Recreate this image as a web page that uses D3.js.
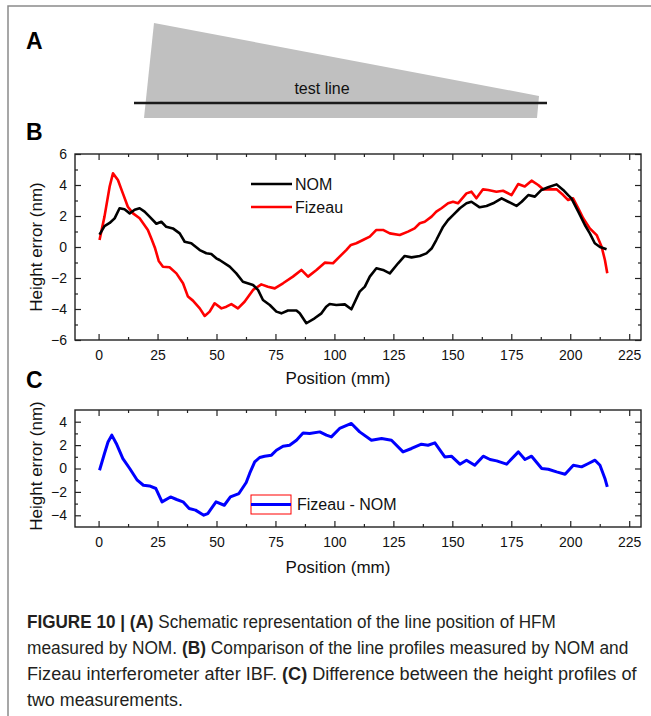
<!DOCTYPE html>
<html><head><meta charset="utf-8">
<script src="https://cdn.jsdelivr.net/npm/d3@7"></script>
<style>
html,body{margin:0;padding:0;background:#fff;}
svg{display:block;}
text{font-family:"Liberation Sans",Arial,sans-serif;}
</style></head>
<body>
<svg id="fig" width="651" height="716"></svg>
<script>
// ---------------- data ----------------
const nomX = [0.4,2.5,4.7,6.8,8.9,11,13.2,15.3,17.4,19.5,21.6,24.5,26.6,28.7,31.5,34.4,36.5,39.3,42.9,45.7,47.8,49.9,51.3,55.6,58.4,61.2,65.5,67.6,69.7,72.6,75.4,77.5,80.3,83.9,85.3,88.1,91.6,94.5,96.5,98,100.8,104.4,107.2,110.7,112.9,115,117.8,120.6,123.5,127,129.8,132.7,136.2,139,141.2,143.2,146.1,148.2,150.3,153.2,156,158.1,161.6,164.5,167.3,170.9,173.7,177.2,179.4,182.2,185,187.8,190.6,194.2,197,199.1,200.5,203.4,206.2,208.3,210.4,212.6,215.4];
const nomY = [0.8,1.35,1.55,1.85,2.5,2.43,2.17,2.4,2.5,2.28,1.96,1.5,1.63,1.3,1.2,0.88,0.34,0.24,-0.2,-0.4,-0.45,-0.73,-0.84,-1.27,-1.7,-2.24,-2.45,-2.77,-3.42,-3.74,-4.17,-4.28,-4.1,-4.1,-4.28,-4.92,-4.6,-4.28,-3.85,-3.68,-3.74,-3.7,-4.02,-2.88,-2.56,-1.91,-1.37,-1.48,-1.7,-1.05,-0.58,-0.67,-0.58,-0.41,-0.1,0.45,1.31,1.74,2.06,2.5,2.82,2.92,2.56,2.65,2.82,3.14,2.92,2.65,2.92,3.35,3.25,3.68,3.85,4.04,3.68,3.35,3.14,2.28,1.42,0.88,0.24,0,-0.15];

const fizX = [0.4,2.5,4.7,6.1,8.2,10.3,12.4,14.6,17.4,20.9,22.5,24,25.5,27.3,30.1,33,35.8,37.9,40,42.9,45,47.1,49.2,52.1,54.2,56.3,59.1,61.9,65.5,69,71.8,74.7,78.2,82.4,86,88.8,92.4,95.9,99.4,102.2,105,107,109.3,112.1,115,117.8,120.6,123.5,127.7,131.2,134,136.2,138.3,141.2,143.2,145.4,148.2,150.3,152.4,156,158.1,160.2,163,165.2,168.7,171.5,175.1,177.9,180.7,183.6,186.4,188.5,191.3,194.2,197,199.1,201.2,203.4,205.5,208.3,211.2,213.3,214.7,215.7];
const fizY = [0.45,1.96,3.9,4.75,4.32,3.46,2.6,2.17,1.85,1.1,0.5,-0.1,-0.9,-1.27,-1.31,-1.7,-2.34,-3.2,-3.46,-3.96,-4.45,-4.17,-3.63,-3.96,-3.85,-3.68,-3.96,-3.53,-2.77,-2.41,-2.56,-2.67,-2.34,-1.91,-1.48,-1.91,-1.48,-1.01,-1.05,-0.62,-0.2,0.13,0.24,0.45,0.67,1.1,1.1,0.88,0.77,0.99,1.2,1.53,1.63,1.96,2.28,2.5,2.82,2.92,2.82,3.46,3.57,3.14,3.72,3.68,3.57,3.63,3.35,4.06,3.9,4.28,4.0,3.72,3.72,3.72,3.35,3.03,3.14,2.5,1.85,1.2,0.77,0.02,-0.84,-1.7];

const diffX = [0.4,2.5,4,5.6,7.5,10.3,13.2,16.4,19,21.6,24.3,26.9,30.5,33.1,35.8,38.4,41.1,44.6,46.3,49.8,53.3,55.9,59.5,62.6,64.1,66.2,68.3,70.4,73.3,75.4,78.2,81,83.9,86.7,89.5,93.8,96.6,98.7,102.2,107.2,110.7,115.7,120,124.2,129.1,132.7,136.9,139.7,142.6,146.8,149.6,153.2,156,159.5,163.1,166,168.8,173,178,180.8,183.6,187.9,190.7,194.2,197.8,201.3,204.8,207.7,210.5,212.6,214.7,215.7];
const diffY = [-0.15,1.28,2.27,2.85,2.14,0.85,0.0,-1.0,-1.43,-1.49,-1.71,-2.85,-2.43,-2.65,-2.85,-3.42,-3.56,-3.99,-3.85,-2.85,-3.14,-2.43,-2.14,-1.2,-0.4,0.56,0.94,1.05,1.14,1.56,1.9,1.99,2.42,3.04,2.99,3.13,2.85,2.7,3.42,3.85,3.13,2.42,2.56,2.42,1.42,1.71,2.08,1.99,2.19,0.99,1.05,0.37,0.71,0.28,1.05,0.77,0.65,0.37,1.42,0.77,1.05,0,-0.06,-0.29,-0.49,0.28,0.14,0.43,0.71,0.28,-0.85,-1.57];

const xTicks = [0,25,50,75,100,125,150,175,200,225];
const xMinor = [12.5,37.5,62.5,87.5,112.5,137.5,162.5,187.5,212.5];
const yTicksB = [-6,-4,-2,0,2,4,6];
const yMinorB = [-5,-3,-1,1,3,5];
const yTicksC = [-4,-2,0,2,4];
const yMinorC = [-3,-1,1,3];

const legendB = ["NOM","Fizeau"];
const legendC = ["Fizeau - NOM"];

const captionLines = [
  [{b:true,t:"FIGURE 10 | (A)"},{b:false,t:" Schematic representation of the line position of HFM"}],
  [{b:false,t:"measured by NOM. "},{b:true,t:"(B)"},{b:false,t:" Comparison of the line profiles measured by NOM and"}],
  [{b:false,t:"Fizeau interferometer after IBF. "},{b:true,t:"(C)"},{b:false,t:" Difference between the height profiles of"}],
  [{b:false,t:"two measurements."}]
];
const captionWidths = [529, 602, 610, 156];

// ---------------- drawing ----------------
const svg = d3.select("#fig");
svg.append("rect").attr("width",651).attr("height",716).attr("fill","#fff");

// outer frame
svg.append("path").attr("d","M8,716 L8,6 L651,6").attr("fill","none")
  .attr("stroke","#8a8a8a").attr("stroke-width",1.5);

// panel letters
[["A",49],["B",140],["C",388]].forEach(([l,y])=>{
  svg.append("text").attr("x",26).attr("y",y).text(l)
    .attr("font-size",23).attr("font-weight","bold").attr("fill","#000");
});

// panel A schematic
svg.append("polygon").attr("points","154,23 144,118 537,118 539,96")
  .attr("fill","#c0c0c0");
svg.append("line").attr("x1",134).attr("x2",547).attr("y1",103).attr("y2",103)
  .attr("stroke","#1a1a1a").attr("stroke-width",2.5);
svg.append("text").attr("x",322).attr("y",94).attr("text-anchor","middle")
  .attr("font-family","'Open Sans',sans-serif").attr("font-size",16).attr("fill","#111").text("test line");

const x = d3.scaleLinear().domain([-10,230]).range([75,641]);
const yB = d3.scaleLinear().domain([-6,6]).range([340,154]);
const yC = d3.scaleLinear().domain([-5,5]).range([527,410]);

function frame(y, yMaj, yMin){
  const [b,t] = y.range();
  const g = svg.append("g");
  g.append("g").attr("transform",`translate(0,${b})`)
    .call(d3.axisBottom(x).tickValues(xTicks).tickSize(-6).tickPadding(10).tickFormat(d3.format("d")));
  g.append("g").attr("transform",`translate(0,${b})`)
    .call(d3.axisBottom(x).tickValues(xMinor).tickSize(-3).tickFormat(""));
  g.append("g").attr("transform",`translate(0,${t})`)
    .call(d3.axisTop(x).tickValues(xTicks).tickSize(-6).tickFormat(""));
  g.append("g").attr("transform",`translate(0,${t})`)
    .call(d3.axisTop(x).tickValues(xMinor).tickSize(-3).tickFormat(""));
  g.append("g").attr("transform",`translate(75,0)`)
    .call(d3.axisLeft(y).tickValues(yMaj).tickSize(-6).tickPadding(8).tickFormat(d3.format("d")));
  g.append("g").attr("transform",`translate(75,0)`)
    .call(d3.axisLeft(y).tickValues(yMin).tickSize(-3).tickFormat(""));
  g.append("g").attr("transform",`translate(641,0)`)
    .call(d3.axisRight(y).tickValues(yMaj).tickSize(-6).tickFormat(""));
  g.append("g").attr("transform",`translate(641,0)`)
    .call(d3.axisRight(y).tickValues(yMin).tickSize(-3).tickFormat(""));
  g.selectAll(".domain").remove();
  g.selectAll(".tick line").attr("stroke","#222").attr("stroke-width",1.2);
  g.selectAll(".tick text").attr("font-size",14).attr("fill","#111")
    .attr("font-family","'Liberation Sans',Arial,sans-serif");
  g.append("rect").attr("x",75).attr("y",t).attr("width",641-75).attr("height",b-t)
    .attr("fill","none").attr("stroke","#222").attr("stroke-width",1.4);
}

frame(yB, yTicksB, yMinorB);
frame(yC, yTicksC, yMinorC);

// curves
const lineB = d3.line().x(d=>x(d[0])).y(d=>yB(d[1]));
const lineC = d3.line().x(d=>x(d[0])).y(d=>yC(d[1]));
svg.append("path").attr("d",lineB(d3.zip(fizX,fizY))).attr("fill","none")
  .attr("stroke","#ff0000").attr("stroke-width",2.6).attr("stroke-linejoin","round");
svg.append("path").attr("d",lineB(d3.zip(nomX,nomY))).attr("fill","none")
  .attr("stroke","#000").attr("stroke-width",2.6).attr("stroke-linejoin","round");
svg.append("path").attr("d",lineC(d3.zip(diffX,diffY))).attr("fill","none")
  .attr("stroke","#0000ff").attr("stroke-width",3).attr("stroke-linejoin","round");

// legend B
const legColors = ["#000","#ff0000"];
legendB.forEach((name,i)=>{
  const yy = 184 + i*23;
  svg.append("line").attr("x1",251).attr("x2",292).attr("y1",yy).attr("y2",yy)
    .attr("stroke",legColors[i]).attr("stroke-width",2.6);
  svg.append("text").attr("x",295).attr("y",yy+6).attr("font-size",16).attr("fill","#111").text(name);
});
// legend C
svg.append("rect").attr("x",251).attr("y",495).attr("width",40).attr("height",19)
  .attr("fill","none").attr("stroke","#ff0000").attr("stroke-width",1);
svg.append("line").attr("x1",251).attr("x2",291).attr("y1",504.5).attr("y2",504.5)
  .attr("stroke","#0000ff").attr("stroke-width",3);
svg.append("text").attr("x",297).attr("y",510).attr("font-size",16).attr("fill","#111").text(legendC[0]);

// axis titles
[[378],[567]].forEach(([yy])=>{
  svg.append("text").attr("x",338).attr("y",yy+6).attr("text-anchor","middle")
    .attr("font-size",17).attr("fill","#111").text("Position (mm)");
});
[[247],[466]].forEach(([yy])=>{
  svg.append("text").attr("transform",`translate(42,${yy}) rotate(-90)`).attr("text-anchor","middle")
    .attr("font-size",17).attr("fill","#111").text("Height error (nm)");
});

// caption
const capBase = [628,654,680,706];
captionLines.forEach((segs,i)=>{
  const t = svg.append("text").attr("x",0).attr("y",0)
    .attr("font-family","'Liberation Sans Narrow','Liberation Sans',Arial,sans-serif")
    .attr("font-size",18.5).attr("fill","#231f20");
  segs.forEach(s=>t.append("tspan").attr("font-weight",s.b?"bold":"normal").text(s.t));
  const w = t.node().getComputedTextLength();
  const sx = captionWidths[i]/w;
  t.attr("transform",`translate(27,${capBase[i]}) scale(${sx},1)`);
});
</script>
</body></html>
